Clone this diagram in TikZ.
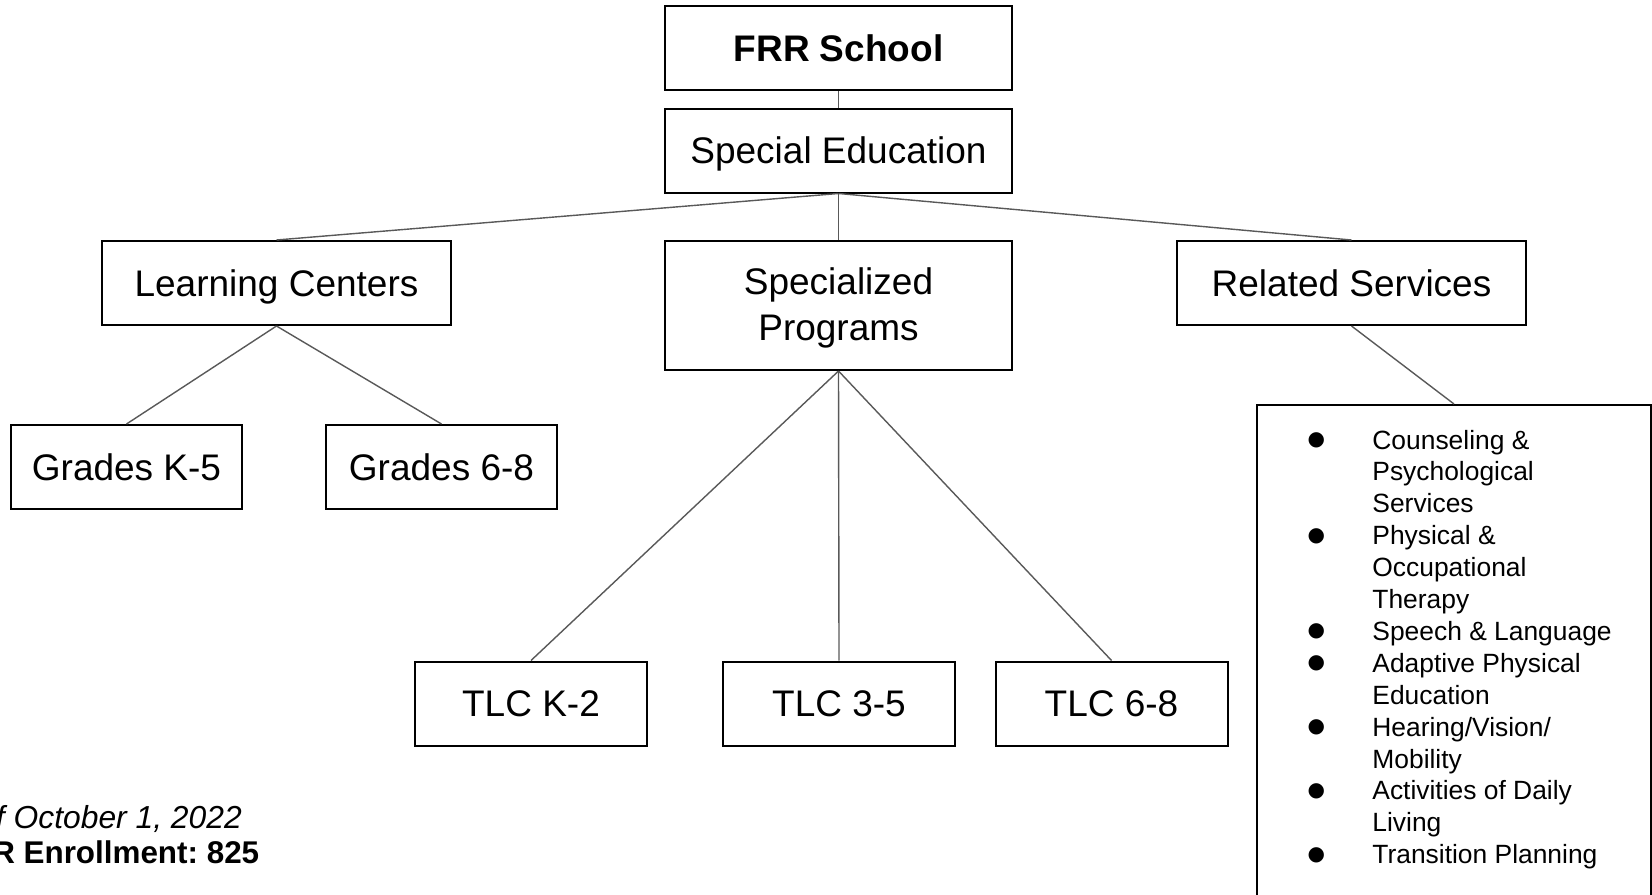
\documentclass[tikz,border=0pt]{standalone}
\usepackage{fontspec}
\setmainfont{Liberation Sans}
\newfontfamily\dotfont{DejaVu Sans}
\frenchspacing
\newcommand{\svcdot}{\makebox[56pt][c]{\raisebox{1.8pt}{\dotfont\fontsize{10}{10}\selectfont ●}}}
\begin{document}
\begin{tikzpicture}[x=0.5pt,y=-0.5pt,
  box/.style={draw=black, line width=1pt, inner sep=0pt, align=center,
    font=\fontsize{18.5}{23}\selectfont},
  oneline/.style={text height=16pt, text depth=2.75pt},
  wide/.style={box, oneline, minimum width=173.5pt, minimum height=42pt},
  small/.style={box, oneline, minimum width=115.5pt, minimum height=42pt},
  link/.style={draw=black!65, line width=0.7pt},
  note/.style={anchor=base west, inner sep=0pt},
]
\useasboundingbox (0,0) rectangle (1652,894);
\clip (0,0) rectangle (1652,894);

% top of the hierarchy
\node[wide, font=\bfseries\fontsize{18.5}{23}\selectfont] (frr) at (838.5,48) {FRR School};
\node[wide] (sped) at (838.5,150.5) {Special Education};

% second level
\node[wide, minimum width=174.5pt] (lc) at (276.5,283) {Learning Centers};
\node[box, minimum width=173.5pt, minimum height=64.5pt, text depth=1.3pt] (sp) at (838.5,305.5) {Specialized\\Programs};
\node[wide, minimum width=174.5pt] (rs) at (1351.5,283) {Related Services};

% learning centers
\node[small] (k5) at (126.5,467) {Grades K-5};
\node[small] (g68) at (441.5,467) {Grades 6-8};

% specialized programs
\node[small, minimum width=116pt] (tk2) at (531,703.5) {TLC K-2};
\node[small, minimum width=116pt] (t35) at (839,703.5) {TLC 3-5};
\node[small, minimum width=116pt] (t68) at (1111.5,703.5) {TLC 6-8};

% related services list (box runs past the lower edge)
\node[draw=black, line width=1pt, inner sep=0pt, anchor=north,
  minimum width=197pt, minimum height=300pt] (svc) at (1454,404) {};
\node[anchor=base west, inner sep=0pt, font=\fontsize{13.2}{15.95}\selectfont] (svclist) at (1260,449)
{\begin{tabular}[t]{@{}l@{}l@{}}
\svcdot & Counseling \&\\
 & Psychological\\
 & Services\\
\svcdot & Physical \&\\
 & Occupational\\
 & Therapy\\
\svcdot & Speech \& Language\\
\svcdot & Adaptive Physical\\
 & Education\\
\svcdot & Hearing/Vision/\\
 & Mobility\\
\svcdot & Activities of Daily\\
 & Living\\
\svcdot & Transition Planning
\end{tabular}};

% footnote
\node[note, font=\itshape\fontsize{15.9}{17.5}\selectfont] (date) at (-68,828)
  {As of October 1, 2022};
\node[note, font=\bfseries\fontsize{15.7}{17.5}\selectfont] (enrol) at (-50,863)
  {FRR Enrollment: 825};

% connectors
\draw[link] (frr.south) -- (sped.north);
\draw[link] (sped.south) -- (lc.north);
\draw[link] (sped.south) -- (sp.north);
\draw[link] (sped.south) -- (rs.north);
\draw[link] (lc.south) -- (k5.north);
\draw[link] (lc.south) -- (g68.north);
\draw[link] (sp.south) -- (tk2.north);
\draw[link] (sp.south) -- (t35.north);
\draw[link] (sp.south) -- (t68.north);
\draw[link] (rs.south) -- (svc.north);
\end{tikzpicture}
\end{document}
